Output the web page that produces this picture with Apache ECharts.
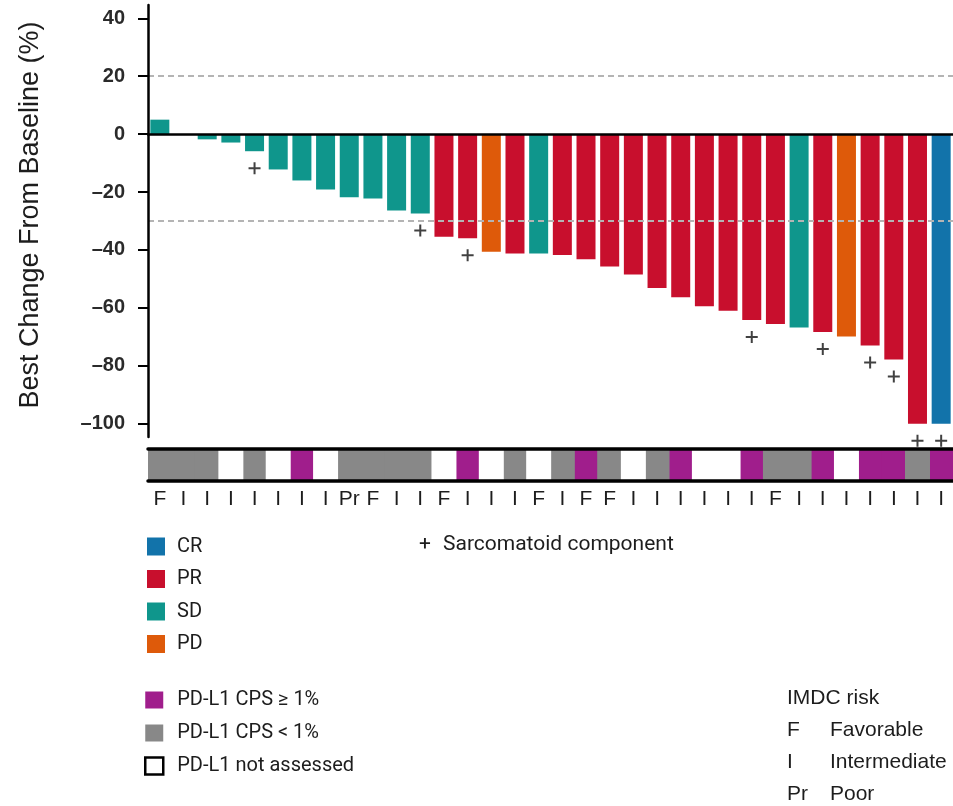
<!DOCTYPE html>
<html>
<head>
<meta charset="utf-8">
<script src="https://cdn.jsdelivr.net/npm/echarts@6/dist/echarts.min.js"></script>
<style>
html, body { margin: 0; padding: 0; background: #fff; }
#main { width: 953px; height: 806px; }
</style>
</head>
<body>
<div id="main"></div>
<script>
// patients, ordered as in the waterfall
var patients = ['1','2','3','4','5','6','7','8','9','10','11','12','13','14','15','16','17',
	'18','19','20','21','22','23','24','25','26','27','28','29','30','31','32','33','34'];

// best change from baseline (%)
var bestChange = [5, 0, -1.8, -2.9, -5.9, -12.2, -16, -19.1, -21.8, -22.2, -26.4, -27.4,
	-35.4, -36, -40.6, -41.2, -41.2, -41.7, -43.2, -45.7, -48.5, -53.1, -56.3, -59.4,
	-61, -64.2, -65.6, -66.8, -68.3, -69.9, -73, -77.8, -100, -100];

// best overall response
var response = ['SD','SD','SD','SD','SD','SD','SD','SD','SD','SD','SD','SD',
	'PR','PR','PD','PR','SD','PR','PR','PR','PR','PR','PR','PR',
	'PR','PR','PR','SD','PR','PD','PR','PR','PR','CR'];

// patients with a sarcomatoid component
var sarcomatoid = [5, 12, 14, 26, 29, 31, 32, 33, 34];

// PD-L1 status: pos = CPS >= 1%, neg = CPS < 1%, na = not assessed
var pdl1 = ['neg','neg','neg','na','neg','na','pos','na','neg','neg','neg','neg',
	'na','pos','na','neg','na','neg','pos','neg','na','neg','pos','na',
	'na','pos','neg','neg','pos','na','pos','pos','neg','pos'];

// IMDC risk
var imdcRisk = ['F','I','I','I','I','I','I','I','Pr','F','I','I','F','I','I','I','F',
	'I','F','F','I','I','I','I','I','I','F','I','I','I','I','I','I','I'];

var yTicks = [40, 20, 0, -20, -40, -60, -80, -100];
var refLines = [20, -30];

var responseClasses = ['CR', 'PR', 'SD', 'PD'];
var responseColors = { CR: '#1273aa', PR: '#c80f2d', SD: '#0f968c', PD: '#de5a0a' };

var pdl1Classes = ['pos', 'neg', 'na'];
var pdl1Names = { pos: 'PD-L1 CPS \u2265 1%', neg: 'PD-L1 CPS < 1%', na: 'PD-L1 not assessed' };
var pdl1Colors = { pos: '#a01e8c', neg: '#888888', na: '#ffffff' };

var txt = '#1d1d1d';

var series = [];

responseClasses.forEach(function (cls, k) {
	var s = {
		type: 'bar',
		name: cls,
		xAxisIndex: 0,
		yAxisIndex: 0,
		stack: 'resp',
		barWidth: 19,
		itemStyle: { color: responseColors[cls] },
		data: bestChange.map(function (v, i) { return response[i] === cls ? v : '-'; })
	};
	if (k === 0) {
		s.markLine = {
			silent: true,
			symbol: 'none',
			label: { show: false },
			lineStyle: { color: '#b4b4b4', type: [6, 4], width: 2 },
			data: refLines.map(function (v) { return { yAxis: v }; })
		};
	}
	series.push(s);
});

series.push({
	type: 'scatter',
	name: 'Sarcomatoid component',
	xAxisIndex: 0,
	yAxisIndex: 0,
	clip: false,
	z: 5,
	symbol: 'path://M0,5H12V7H0Z M5,0H7V12H5Z',
	symbolSize: 12,
	symbolOffset: [0, 17],
	itemStyle: { color: '#111' },
	data: sarcomatoid.map(function (p) { return [p - 1, bestChange[p - 1]]; })
});

// PD-L1 strip: slightly wider than the band so neighbouring cells leave no seam
pdl1Classes.forEach(function (cls) {
	series.push({
		type: 'bar',
		name: pdl1Names[cls],
		xAxisIndex: 1,
		yAxisIndex: 1,
		stack: 'pdl1',
		barWidth: 25,
		itemStyle: { color: pdl1Colors[cls] },
		data: pdl1.map(function (c) { return c === cls ? 1 : '-'; })
	});
});

var graphics = [
	{ type: 'text', x: 425, y: 545, style: { text: '+', fill: txt, font: '21px Roboto', align: 'center', verticalAlign: 'middle' } },
	{ type: 'text', x: 443, y: 545, style: { text: 'Sarcomatoid component', fill: txt, font: '21px Roboto', verticalAlign: 'middle' } },
	{ type: 'text', x: 787, y: 698, style: { text: 'IMDC risk', fill: txt, font: '21px "Liberation Sans"', verticalAlign: 'middle' } }
];
var imdcLegend = [['F', 'Favorable', 730], ['I', 'Intermediate', 762], ['Pr', 'Poor', 794]];
imdcLegend.forEach(function (r) {
	graphics.push({ type: 'text', x: 787, y: r[2], style: { text: r[0], fill: txt, font: '21px "Liberation Sans"', verticalAlign: 'middle' } });
	graphics.push({ type: 'text', x: 830, y: r[2], style: { text: r[1], fill: txt, font: '21px "Liberation Sans"', verticalAlign: 'middle' } });
});

var option = {
	animation: false,
	backgroundColor: '#fff',
	grid: [
		{ left: 148, top: 5, width: 814, height: 432 },
		{ left: 148, top: 449, width: 814, height: 32 }
	],
	xAxis: [
		{
			type: 'category',
			gridIndex: 0,
			data: patients,
			z: 10,
			axisLine: { onZero: true, lineStyle: { color: '#000', width: 2.5 } },
			axisTick: { show: false },
			axisLabel: { show: false },
			splitLine: { show: false }
		},
		{
			type: 'category',
			gridIndex: 1,
			position: 'top',
			data: patients,
			z: 10,
			axisLine: { onZero: false, lineStyle: { color: '#000', width: 3.5 } },
			axisTick: { show: false },
			axisLabel: { show: false }
		},
		{
			type: 'category',
			gridIndex: 1,
			position: 'bottom',
			data: patients,
			z: 10,
			axisLine: { onZero: false, lineStyle: { color: '#000', width: 3.5 } },
			axisTick: { show: false },
			axisLabel: {
				interval: 0,
				margin: 8,
				color: txt,
				fontSize: 21,
				fontFamily: 'Liberation Sans',
				formatter: function (v, i) { return imdcRisk[i]; }
			}
		}
	],
	yAxis: [
		{
			type: 'value',
			gridIndex: 0,
			min: -104.6,
			max: 44.6,
			z: 10,
			name: 'Best Change From Baseline (%)',
			nameLocation: 'middle',
			nameGap: 104,
			nameTextStyle: { fontSize: 27, color: txt, fontFamily: 'Liberation Sans', padding: [0, 0, 0, 12] },
			axisLine: { show: true, lineStyle: { color: '#000', width: 2.5 } },
			axisTick: { show: true, length: 10, customValues: yTicks, lineStyle: { color: '#000', width: 2 } },
			axisLabel: {
				customValues: yTicks,
				margin: 23,
				fontSize: 20,
				fontWeight: 'bold',
				color: '#2a2a2a',
				fontFamily: 'Liberation Sans',
				formatter: function (v) { return v < 0 ? '\u2013' + Math.abs(v) : String(v); }
			},
			splitLine: { show: false }
		},
		{
			type: 'value',
			gridIndex: 1,
			min: 0,
			max: 1,
			show: false
		}
	],
	legend: [
		{
			data: responseClasses,
			orient: 'vertical',
			left: 147,
			top: 536.5,
			padding: 0,
			icon: 'rect',
			itemWidth: 18,
			itemHeight: 18,
			itemGap: 12.5,
			selectedMode: false,
			textStyle: { fontSize: 20, lineHeight: 18, color: txt, fontFamily: 'Roboto', padding: [0, 0, 0, 7] }
		},
		{
			data: [
				{ name: pdl1Names.pos },
				{ name: pdl1Names.neg },
				{ name: pdl1Names.na, itemStyle: { color: '#fff', borderColor: '#000', borderWidth: 2.5 } }
			],
			orient: 'vertical',
			left: 144,
			top: 690,
			padding: 0,
			icon: 'rect',
			itemWidth: 18,
			itemHeight: 17,
			itemGap: 13,
			selectedMode: false,
			textStyle: { fontSize: 20, lineHeight: 17, color: txt, fontFamily: 'Roboto', padding: [0, 0, 0, 9] }
		}
	],
	graphic: graphics,
	series: series
};

var myChart = echarts.init(document.getElementById('main'));
myChart.setOption(option);
</script>
</body>
</html>
